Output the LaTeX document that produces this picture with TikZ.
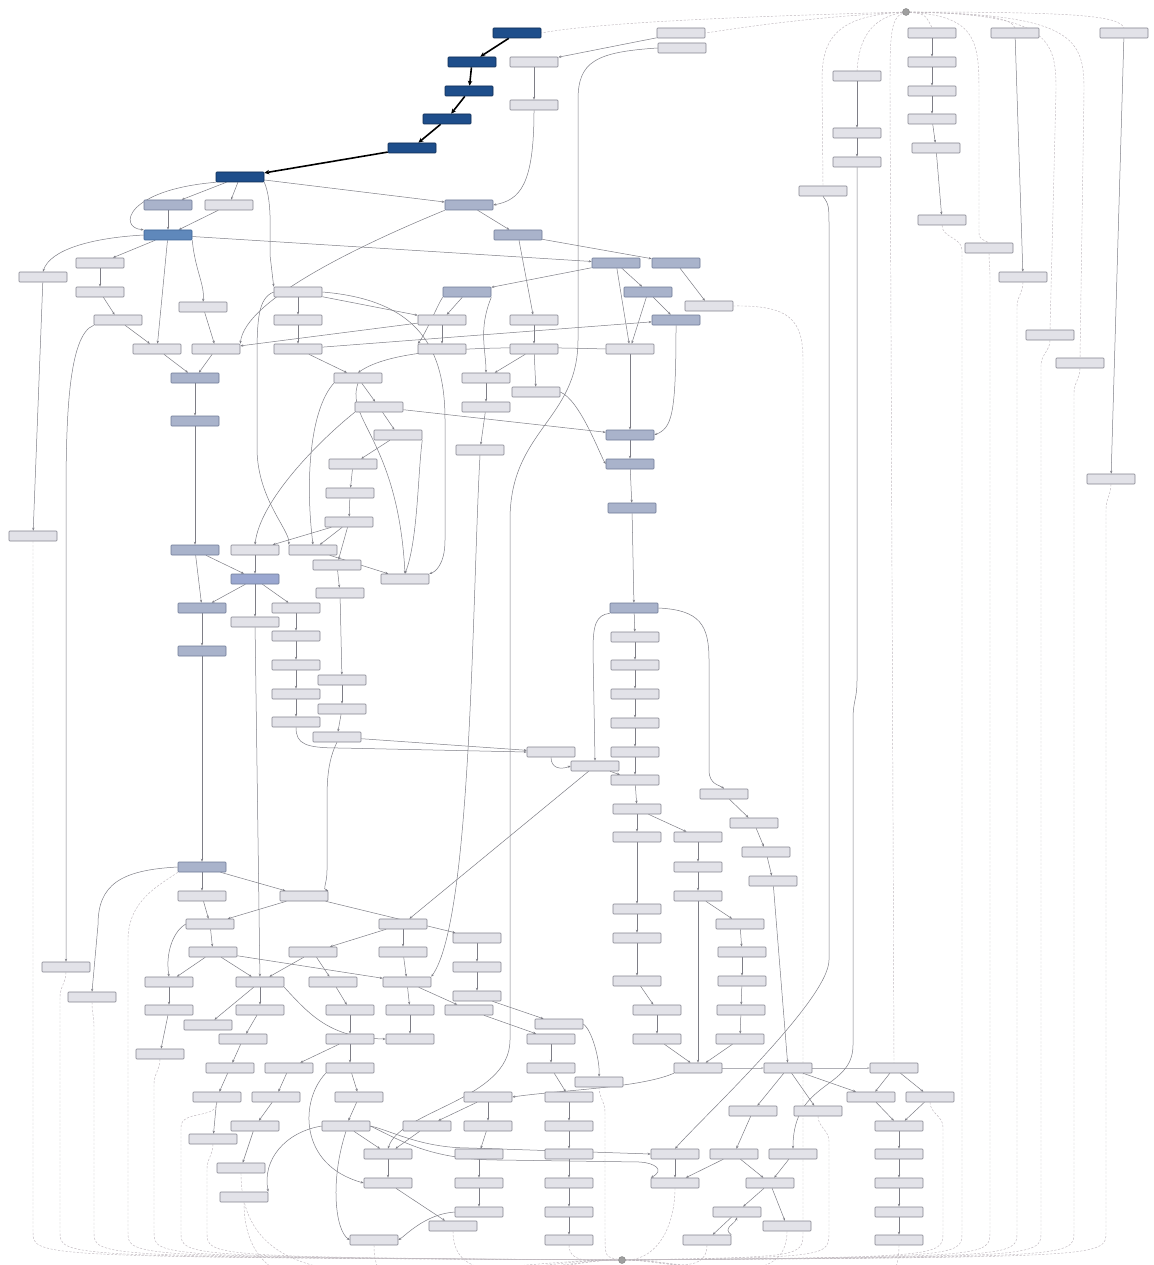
\documentclass[tikz,border=0pt]{standalone}
\usetikzlibrary{arrows.meta}
\definecolor{gfill}{HTML}{E2E2E8}
\definecolor{gdraw}{HTML}{84848E}
\definecolor{mfill}{HTML}{A9B3CB}
\definecolor{mdraw}{HTML}{6E7A96}
\definecolor{m3fill}{HTML}{5F88BB}
\definecolor{m3draw}{HTML}{3B6396}
\definecolor{m13fill}{HTML}{9AA7D0}
\definecolor{dfill}{HTML}{1E4E8B}
\definecolor{ddraw}{HTML}{0C2A52}
\definecolor{ecol}{HTML}{7E7E86}
\definecolor{elight}{HTML}{B0B0B6}
\definecolor{dcol}{HTML}{BFB8BE}
\pgfdeclarelayer{bg}
\pgfdeclarelayer{edges}
\pgfsetlayers{bg,edges,main}
\tikzset{
  nb/.style={draw, rounded corners=0.8pt, minimum width=48pt, minimum height=10pt, inner sep=0pt, line width=0.55pt},
  gr/.style={nb, fill=gfill, draw=gdraw},
  mb/.style={nb, fill=mfill, draw=mdraw},
  mbb/.style={nb, fill=m3fill, draw=m3draw},
  mbc/.style={nb, fill=m13fill, draw=mdraw},
  dk/.style={nb, fill=dfill, draw=ddraw},
  dotn/.style={circle, fill=gray!75, draw=gray, inner sep=0pt, minimum size=7pt},
  e/.style={draw=ecol, line width=0.5pt, -{Stealth[length=3pt,width=2.3pt]}},
  el/.style={draw=elight, line width=0.4pt, -{Stealth[length=2.5pt,width=2pt]}},
  te/.style={draw=black, line width=1.6pt, -{Stealth[length=5pt,width=4.5pt]}},
  dsh/.style={draw=dcol, line width=0.45pt, dash pattern=on 2.2pt off 1.6pt},
}
\newcommand\tobot[3]{\draw[dsh] (#1.south) to[out=-90,in=90] (#2,-#3) -- (#2,-1232) .. controls (#2,-1257) .. (enddot);}
\newcommand\tobotL[1]{\draw[dsh] (#1.south) to[out=-90,in=180] (enddot);}
\newcommand\tobotR[1]{\draw[dsh] (#1.south) to[out=-90,in=0] (enddot);}
\begin{document}
\begin{tikzpicture}[x=1pt,y=1pt]
\begin{pgfonlayer}{bg}
\fill[white] (0,0) rectangle (1153,-1265);
\end{pgfonlayer}
\useasboundingbox (0,0) rectangle (1153,-1265);

% dots
\node[dotn] (startdot) at (906,-12) {};
\node[dotn] (enddot) at (622,-1260) {};

% dark nodes
\foreach \n/\x/\y in {d1/517/33, d2/472/62, d3/469/91, d4/447/119, d5/412/148, d6/240/177}
  \node[dk] (\n) at (\x,-\y) {};

% medium nodes
\foreach \n/\x/\y in {m1/168/205, m2/469/205, m4/518/235, m5/467/292, m6/616/263, m7/676/263, m8/648/292, m9/676/320, m10/195/378, m11/195/421, m12/195/550, m14/202/608, m19/202/651, m20/202/867, m15/630/435, m16/630/464, m17/632/508, m18/634/608}
  \node[mb] (\n) at (\x,-\y) {};
\node[mbb] (m3) at (168,-235) {};
\node[mbc] (m13) at (255,-579) {};

% grey nodes
\foreach \n/\x/\y in {g1/534/62, g2/534/105, g3/229/205, g4/100/263, g5/43/277, g6/100/292, g7/203/307, g8/298/292, g9/118/320, g10/298/320, g11/442/320, g12/534/320, g13/681/33, g14/682/48, g15/932/33, g16/1015/33, g17/1124/33, g18/932/62, g19/857/76, g20/932/91, g21/932/119, g22/936/148, g23/857/133, g24/857/162, g25/823/191, g26/942/220, g27/989/248, g28/1023/277, g29/709/306, g30/157/349, g31/216/349, g32/298/349, g33/442/349, g34/534/349, g35/358/378, g36/486/378, g37/536/392, g38/379/407, g39/486/407, g40/398/435, g41/480/450, g42/353/464, g43/350/493, g44/349/522, g45/33/536, g46/255/550, g47/313/550, g48/337/565, g49/405/579, g50/296/608, g51/340/593, g52/255/622, g53/296/636, g54/630/349, g55/1050/335, g56/1080/363, g57/1111/479, g58/296/665, g59/342/680, g60/296/694, g61/342/709, g62/296/722, g63/337/737, g64/551/752, g65/595/766, g66/202/896, g67/304/896, g68/210/924, g69/403/924, g70/477/938, g71/635/637, g72/635/665, g73/635/694, g74/635/723, g75/635/752, g76/635/780, g77/724/794, g78/637/809, g79/754/823, g80/637/837, g81/698/837, g82/766/852, g83/698/867, g84/773/881, g85/698/896, g86/637/909, g87/740/924, g88/637/938, g89/213/952, g90/313/952, g91/403/952, g92/477/967, g93/66/967, g94/92/997, g95/169/982, g96/260/982, g97/333/982, g98/407/982, g99/477/996, g100/169/1010, g101/260/1010, g102/350/1010, g103/410/1010, g104/469/1010, g105/208/1025, g106/559/1024, g107/160/1054, g108/243/1039, g109/350/1039, g110/410/1039, g111/551/1039, g112/230/1068, g113/289/1068, g114/350/1068, g115/551/1068, g116/217/1097, g117/276/1097, g118/359/1097, g119/488/1097, g120/569/1097, g121/255/1126, g122/346/1126, g123/427/1126, g124/488/1126, g125/213/1139, g126/388/1154, g127/479/1154, g128/241/1168, g129/388/1183, g130/479/1183, g131/244/1197, g132/479/1212, g133/453/1226, g134/374/1240, r1/569/1126, r2/569/1154, r3/569/1183, r4/569/1212, r5/569/1240, g135/742/952, g136/637/981, g137/742/981, g138/657/1010, g139/741/1010, g140/657/1039, g141/740/1039, g142/599/1082, g143/698/1068, g144/788/1068, g145/894/1068, g147/871/1097, g148/930/1097, g149/753/1111, g150/818/1111, g151/899/1126, g152/675/1154, g153/734/1154, g154/793/1154, g155/899/1154, g156/675/1183, g157/770/1183, g158/899/1183, g159/737/1212, g160/899/1212, g161/787/1226, g162/707/1240, g163/899/1240}
  \node[gr] (\n) at (\x,-\y) {};

\begin{pgfonlayer}{edges}
% thick chain
\foreach \a/\b in {d1/d2, d2/d3, d3/d4, d4/d5, d5/d6}
  \draw[te] (\a) -- (\b);

% straight edges
\foreach \a/\b in {d6/m1, d6/g3, d6/m2, m1/m3, g3/m3, g13/g1, g1/g2, m2/m4, m3/m6, m4/m7, m3/g4, m3/g30, g4/g6, g6/g9, g9/g30, g5/g45, g7/g31, g8/g10, g10/g32, g8/g11, m6/m8, m6/m5, m7/g29, m8/m9, m6/g54, m8/g54, g54/m15, m5/g11, g11/g33, g12/g34, m4/g12, g11/g31, g32/g35, g32/m9, g34/g36, g34/g37, g30/m10, g31/m10, m10/m11, m11/m12, g35/g38, g38/g40, g40/g42, g42/g43, g43/g44, g44/g46, g44/g47, g44/g48, g48/g51, g38/m15, g47/g49, g36/g39, g39/g41, m12/m14, m12/m13, g46/m13, m13/m14, m13/g50, m13/g52, g50/g53, g53/g58, g58/g60, g60/g62, g51/g59, g59/g61, g61/g63, m14/m19, m19/m20, g63/g64, m15/m16, m16/m17, m17/m18, m18/g71, g71/g72, g72/g73, g73/g74, g74/g75, g75/g76, g65/g76, g65/g69, g76/g78, g78/g80, g78/g81, g80/g86, g86/g88, g88/g136, g136/g138, g138/g140, g140/g143, g77/g79, g79/g82, g82/g84, g84/g144, g81/g83, g83/g85, g85/g87, g87/g135, g135/g137, g137/g139, g139/g141, g141/g143, g85/g143, g16/g28, g17/g57, g15/g18, g18/g20, g20/g21, g21/g22, g22/g26, g19/g23, g23/g24, m20/g66, m20/g67, g66/g68, g67/g68, g67/g70, g68/g89, g69/g91, g69/g90, g70/g92, g92/g99, g89/g95, g89/g96, g89/g98, g90/g96, g90/g97, g91/g98, g52/g96, g95/g100, g100/g107, g96/g101, g96/g105, g101/g108, g108/g112, g112/g116, g116/g125, g97/g102, g102/g109, g109/g114, g109/g113, g113/g117, g117/g121, g121/g128, g114/g118, g118/g122, g122/g126, g98/g103, g98/g104, g103/g110, g99/g106, g104/g111, g111/g115, g115/g120, g120/r1, r1/r2, r2/r3, r3/r4, r4/r5, g119/g123, g119/g124, g124/g127, g127/g130, g130/g132, g123/g126, g126/g129, g129/g133, g144/g149, g144/g150, g144/g147, g145/g147, g145/g148, g147/g151, g148/g151, g151/g155, g155/g158, g158/g160, g160/g163, g149/g153, g152/g156, g153/g156, g153/g157, g154/g157, g157/g159, g157/g161, g159/g162}
  \draw[e] (\a) -- (\b);

\draw[el] (g143) -- (g144);
\draw[el] (g144) -- (g145);

% curved edges
\draw[e] (d6.south west) .. controls (125,-190) and (118,-228) .. (m3.north west);
\draw[e] (d6.south east) .. controls (272,-200) and (270,-230) .. (270,-255) -- (g8.north west);
\draw[e] (g2.south) .. controls (534,-185) and (520,-200) .. (m2.east);
\draw[e] (m2.south west) .. controls (360,-245) and (245,-300) .. (g31.north east);
\draw[e] (m3.west) .. controls (90,-238) and (50,-250) .. (g5.north);
\draw[e] (m3.south east) .. controls (195,-270) and (205,-285) .. (g7.north);
\draw[e] (g9.south west) .. controls (68,-335) and (66,-420) .. (66,-500) -- (g93.north);
\draw[e] (g8.east) .. controls (420,-300) and (445,-350) .. (445,-420) -- (445,-540) .. controls (445,-565) and (435,-572) .. (g49.north east);
\draw[e] (g8.west) .. controls (258,-298) and (257,-320) .. (257,-360) -- (257,-450) .. controls (258,-500) and (290,-530) .. (g47.north west);
\draw[e] (g35.south west) .. controls (310,-410) and (305,-480) .. (g47.north);
\draw[e] (g35.south) .. controls (345,-420) and (398,-440) .. (g49.north);
\draw[e] (g38.south west) .. controls (320,-440) and (260,-500) .. (g46.north);
\draw[e] (g40.south east) .. controls (418,-470) and (418,-540) .. (g49.north);
\draw[e] (g54.west) .. controls (470,-345) and (390,-350) .. (g35.north);
\draw[e] (g41.south) .. controls (472,-600) and (472,-920) .. (g98.north east);
\draw[e] (g14.west) .. controls (595,-52) and (578,-62) .. (578,-100) -- (578,-340) .. controls (578,-420) and (510,-430) .. (510,-520) -- (510,-1040) .. controls (510,-1100) and (400,-1110) .. (g126.north);
\draw[e] (g25.south) .. controls (829,-205) .. (829,-230) -- (829,-960) .. controls (829,-1000) and (700,-1120) .. (g152.north);
\draw[e] (g24.south) -- (857,-680) .. controls (857,-700) and (853,-700) .. (853,-720) -- (853,-1045) .. controls (853,-1090) and (793,-1080) .. (g154.north);
\draw[e] (m9.south) .. controls (676,-415) and (672,-428) .. (m15.east);
\draw[e] (m5.south east) .. controls (478,-330) and (486,-350) .. (g36.north);
\draw[e] (m5.south west) .. controls (440,-300) and (425,-335) .. (g33.north west);
\draw[e] (g37.east) .. controls (580,-400) and (600,-455) .. (m16.west);
\draw[e] (m18.south west) .. controls (596,-615) and (593,-625) .. (593,-650) -- (g65.north);
\draw[e] (m18.east) .. controls (700,-610) and (709,-625) .. (709,-660) -- (709,-770) .. controls (709,-785) and (720,-785) .. (g77.north);
\draw[e] (g62.south) .. controls (296,-744) and (305,-748) .. (340,-748) -- (g64.west);
\draw[e] (g63.south) .. controls (328,-760) and (327,-780) .. (327,-800) -- (327,-870) .. controls (327,-885) and (322,-889) .. (g67.north east);
\draw[e] (g64.south) .. controls (551,-768) and (560,-770) .. (g65.west);
\draw[e] (m20.west) .. controls (120,-870) and (98,-885) .. (98,-925) -- (g94.north);
\draw[e] (g68.west) .. controls (175,-930) and (165,-950) .. (g95.north);
\draw[e] (g96.south east) .. controls (310,-1015) and (330,-1038) .. (g110.west);
\draw[e] (g114.south west) .. controls (300,-1100) and (298,-1165) .. (g129.west);
\draw[e] (g122.south) .. controls (330,-1180) and (335,-1230) .. (g134.west);
\draw[e] (g122.west) .. controls (285,-1132) and (262,-1160) .. (g131.north east);
\draw[e] (g132.west) .. controls (425,-1214) and (405,-1236) .. (g134.east);
\draw[e] (g143.south west) .. controls (640,-1088) and (560,-1090) .. (g119.east);
\draw[e] (g106.east) .. controls (592,-1030) and (600,-1060) .. (g142.north);
\draw[e] (g122.east) .. controls (390,-1130) and (420,-1148) .. (470,-1148) -- (g152.west);
\draw[e] (g122.east) .. controls (400,-1140) and (430,-1160) .. (500,-1160) -- (640,-1162) .. controls (655,-1163) and (665,-1170) .. (g156.north west);
\draw[e] (g162.north east) .. controls (722,-1228) and (735,-1224) .. (g159.south);

% dashed from the start dot
\draw[dsh] (startdot) .. controls (760,-16) and (600,-22) .. (d1.east);
\draw[dsh] (startdot) .. controls (800,-18) and (740,-28) .. (g13.east);
\draw[dsh] (startdot) .. controls (925,-14) .. (g15.north);
\draw[dsh] (startdot) .. controls (990,-14) and (1010,-18) .. (g16.north);
\draw[dsh] (startdot) .. controls (1080,-12) and (1118,-16) .. (g17.north);
\draw[dsh] (startdot) .. controls (870,-18) and (859,-40) .. (g19.north);
\draw[dsh] (startdot) .. controls (835,-16) and (822,-40) .. (822,-80) -- (g25.north);
\draw[dsh] (startdot) .. controls (975,-16) and (979,-40) .. (979,-90) -- (979,-230) .. controls (979,-238) .. (g27.north);
\draw[dsh] (startdot) .. controls (1050,-14) and (1056,-40) .. (1056,-90) -- (g55.north);
\draw[dsh] (startdot) .. controls (1075,-14) and (1084,-40) .. (1084,-90) -- (g56.north);
\draw[dsh] (startdot) .. controls (890,-18) and (890,-40) .. (890,-90) -- (g145.north);
\draw[dsh] (g29.east) .. controls (790,-305) and (803,-320) .. (803,-360) -- (803,-1232) .. controls (803,-1257) .. (enddot);

% dashed to the end dot
\tobot{g45}{33}{566}
\tobot{g93}{60}{997}
\tobot{g94}{94}{1027}
\draw[dsh] (m20.south west) .. controls (160,-885) and (128,-900) .. (128,-940) -- (128,-1232) .. controls (128,-1257) .. (enddot);
\tobot{g107}{154}{1084}
\tobot{g116}{181}{1127}
\tobot{g125}{207}{1169}
\tobotL{g128}
\tobotL{g131}
\tobotL{g134}
\tobotL{g133}
\tobotL{r5}
\tobot{g142}{605}{1112}
\tobotR{g156}
\tobotR{g162}
\tobotR{g161}
\tobot{g150}{829}{1141}
\tobot{g148}{943}{1127}
\tobotR{g163}
\tobot{g26}{962}{250}
\tobot{g27}{990}{278}
\tobot{g28}{1017}{307}
\tobot{g55}{1041}{365}
\tobot{g56}{1074}{393}
\tobot{g57}{1106}{509}
\end{pgfonlayer}
\end{tikzpicture}
\end{document}
